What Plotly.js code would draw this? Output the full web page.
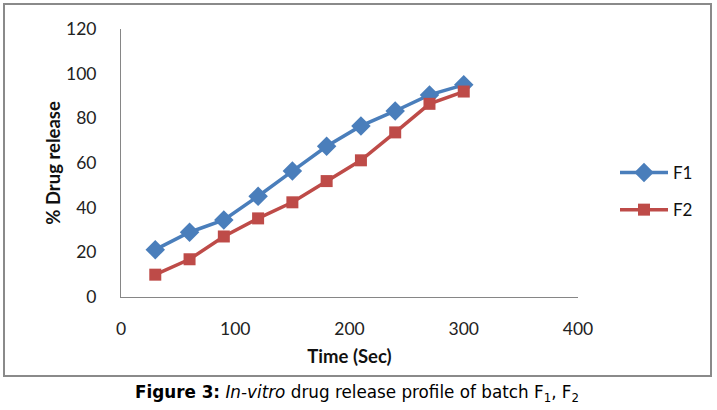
<!DOCTYPE html>
<html>
<head>
<meta charset="utf-8">
<script src="https://cdn.plot.ly/plotly-3.0.1.min.js"></script>
<style>html,body{margin:0;padding:0;background:#fff;}#chart{width:717px;height:410px;}</style>
</head>
<body>
<div id="chart"></div>
<script>
const timeSec = [30, 60, 90, 120, 150, 180, 210, 240, 270, 300];
const f1Release = [21.2, 29.0, 34.5, 45.1, 56.4, 67.5, 76.6, 83.3, 90.5, 95.0];
const f2Release = [10.0, 16.9, 27.1, 35.2, 42.4, 51.9, 61.2, 73.7, 86.5, 92.0];
const seriesNames = ['F1', 'F2'];
const yTicks = [0, 20, 40, 60, 80, 100, 120];
const xTicks = [0, 100, 200, 300, 400];

const W = 717, H = 410;
const L = 121, R = 578, T = 29, B = 297;
const px = x => (x - L) / (R - L);
const py = y => (B - y) / (B - T);

const traces = [
  {x: timeSec, y: f1Release, name: seriesNames[0], mode: 'lines+markers', legendgroup: 'a',
   line: {color: '#4A7EBB', width: 3.5},
   marker: {symbol: 'diamond', size: 15, color: '#4A7EBB'}},
  {x: timeSec, y: f2Release, name: seriesNames[1], mode: 'lines+markers', legendgroup: 'b',
   line: {color: '#BE4B48', width: 3.5},
   marker: {symbol: 'square', size: 12, color: '#BE4B48'}}
];

const FONT = 'Lato, "Open Sans", sans-serif';
const tickFont = {family: FONT, size: 17.5, color: '#222'};

const layout = {
  width: W, height: H,
  margin: {l: L, r: W - R, t: T, b: H - B, pad: 0},
  paper_bgcolor: '#fff', plot_bgcolor: '#fff',
  showlegend: true,
  legend: {x: px(615), y: py(155), xanchor: 'left', yanchor: 'top',
           font: {family: FONT, size: 17, color: '#111'}, itemwidth: 48,
           traceorder: 'grouped', tracegroupgap: 12, bgcolor: 'rgba(0,0,0,0)'},
  xaxis: {range: [0, 400], tickvals: xTicks, ticktext: xTicks.map(String),
          showgrid: false, zeroline: false, showline: true, linecolor: '#868686', linewidth: 1,
          ticks: '', ticklabelstandoff: 16, tickfont: tickFont,
          title: {text: '<b>Time (Sec)</b>', font: {family: FONT, size: 18.5, color: '#111'}, standoff: 12}},
  yaxis: {range: [0, 120], tickvals: yTicks, ticktext: yTicks.map(String),
          showgrid: false, zeroline: false, showline: true, linecolor: '#868686', linewidth: 1,
          ticks: '', ticklabelstandoff: 20, tickfont: tickFont,
          title: {text: '<b>% Drug release</b>', font: {family: FONT, size: 18.5, color: '#111'}, standoff: 0}},
  shapes: [
    {type: 'rect', xref: 'paper', yref: 'paper', x0: px(4), x1: px(711), y0: py(376), y1: py(4),
     line: {color: '#8a8a8a', width: 2}, fillcolor: 'rgba(0,0,0,0)', layer: 'below'}
  ],
  annotations: [
    {xref: 'paper', yref: 'paper', x: px(357), y: py(393), xanchor: 'center', yanchor: 'middle', showarrow: false,
     text: '<b>Figure 3:</b> <i>In-vitro</i> drug release profile of batch F<sub>1</sub>, F<sub>2</sub>',
     font: {family: '"DejaVu Sans", sans-serif', size: 16.8, color: '#000'}}
  ]
};

Plotly.newPlot('chart', traces, layout, {displayModeBar: false, staticPlot: true});
</script>
</body>
</html>
